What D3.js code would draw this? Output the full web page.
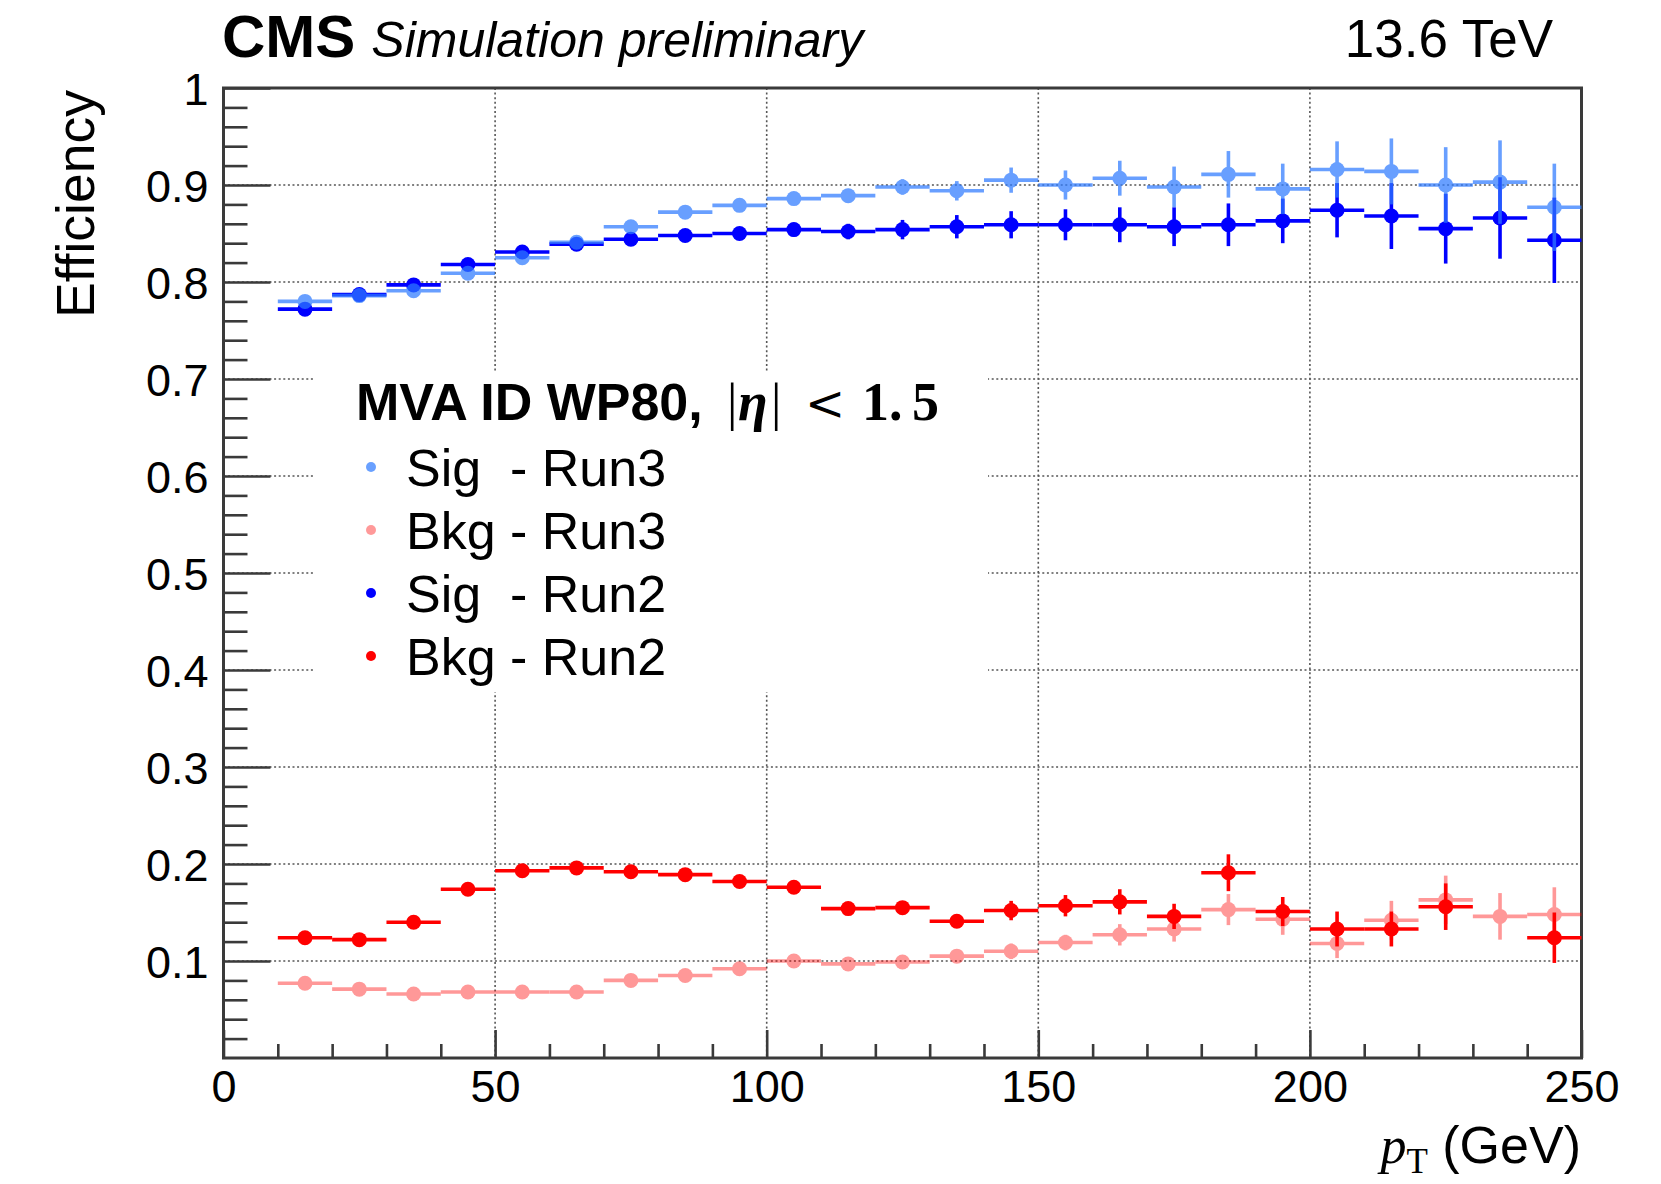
<!DOCTYPE html>
<html>
<head>
<meta charset="utf-8">
<script src="https://cdn.jsdelivr.net/npm/d3@7"></script>
<style>
  html, body { margin: 0; padding: 0; background: #fff; }
  svg { display: block; }
</style>
</head>
<body>
<svg id="chart" width="1661" height="1184"></svg>
<script>
// pT bins (GeV): lower / upper edges
const binLow  = [10, 20, 30, 40, 50, 60, 70, 80, 90, 100, 110, 120, 130, 140, 150, 160, 170, 180, 190, 200, 210, 220, 230, 240];
const binHigh = [20, 30, 40, 50, 60, 70, 80, 90, 100, 110, 120, 130, 140, 150, 160, 170, 180, 190, 200, 210, 220, 230, 240, 250];

// Signal efficiency, Run3 training
const sigRun3    = [0.780, 0.786, 0.791, 0.809, 0.825, 0.841, 0.857, 0.872, 0.879, 0.886, 0.889, 0.898, 0.894, 0.905, 0.900, 0.907, 0.898, 0.911, 0.896, 0.916, 0.914, 0.900, 0.903, 0.877];
const sigRun3Err = [0.002, 0.002, 0.002, 0.003, 0.003, 0.003, 0.004, 0.004, 0.005, 0.006, 0.007, 0.008, 0.010, 0.013, 0.015, 0.018, 0.021, 0.024, 0.026, 0.029, 0.034, 0.039, 0.043, 0.045];

// Signal efficiency, Run2 training
const sigRun2    = [0.772, 0.787, 0.797, 0.818, 0.831, 0.839, 0.844, 0.848, 0.850, 0.854, 0.852, 0.854, 0.857, 0.859, 0.859, 0.859, 0.857, 0.859, 0.863, 0.874, 0.868, 0.855, 0.866, 0.843];
const sigRun2Err = [0.002, 0.002, 0.003, 0.003, 0.003, 0.004, 0.004, 0.005, 0.006, 0.007, 0.008, 0.010, 0.012, 0.014, 0.016, 0.018, 0.020, 0.022, 0.023, 0.028, 0.034, 0.036, 0.042, 0.044];

// Background efficiency, Run3 training
const bkgRun3    = [0.077, 0.071, 0.066, 0.068, 0.068, 0.068, 0.080, 0.085, 0.092, 0.100, 0.097, 0.099, 0.105, 0.110, 0.119, 0.127, 0.133, 0.153, 0.143, 0.118, 0.142, 0.163, 0.146, 0.148];
const bkgRun3Err = [0.002, 0.002, 0.002, 0.002, 0.002, 0.003, 0.003, 0.003, 0.004, 0.004, 0.005, 0.005, 0.006, 0.008, 0.008, 0.011, 0.013, 0.016, 0.016, 0.015, 0.020, 0.025, 0.024, 0.028];

// Background efficiency, Run2 training (empty bin at 230-240 GeV)
const bkgRun2    = [0.124, 0.122, 0.140, 0.174, 0.193, 0.196, 0.192, 0.189, 0.182, 0.176, 0.154, 0.155, 0.141, 0.152, 0.157, 0.161, 0.146, 0.191, 0.151, 0.133, 0.133, 0.156, null, 0.124];
const bkgRun2Err = [0.002, 0.002, 0.003, 0.003, 0.003, 0.003, 0.003, 0.004, 0.004, 0.005, 0.005, 0.006, 0.007, 0.010, 0.011, 0.013, 0.013, 0.019, 0.015, 0.018, 0.018, 0.024, null, 0.026];

// Axis ticks and labels
const xMajorTicks = [0, 50, 100, 150, 200, 250];
const xMinorTicks = [10, 20, 30, 40, 60, 70, 80, 90, 110, 120, 130, 140, 160, 170, 180, 190, 210, 220, 230, 240];
const yMajorTicks = [0.1, 0.2, 0.3, 0.4, 0.5, 0.6, 0.7, 0.8, 0.9, 1.0];
const yTickLabels = ["0.1", "0.2", "0.3", "0.4", "0.5", "0.6", "0.7", "0.8", "0.9", "1"];
const yMinorTicks = d3.range(1, 50).map(i => +(i * 0.02).toFixed(2)).filter(v => Math.abs(v * 10 - Math.round(v * 10)) > 1e-6);
const xGrid = [50, 100, 150, 200];
const yGrid = [0.1, 0.2, 0.3, 0.4, 0.5, 0.6, 0.7, 0.8, 0.9];

const legendEntries = ["Sig  - Run3", "Bkg - Run3", "Sig  - Run2", "Bkg - Run2"];

const SANS = "'Liberation Sans', Arial, Helvetica, sans-serif";
const SERIF = "'Liberation Serif', 'DejaVu Serif', 'Times New Roman', serif";
const MATH = "'DejaVu Serif', 'Liberation Serif', serif";

const svg = d3.select("#chart");
const L = 223.5, R = 1581.5, T = 88, B = 1058;

const x = d3.scaleLinear().domain([0, 250]).range([L, R]);
const y = d3.scaleLinear().domain([0, 1]).range([B, T]);

// grid
const grid = svg.append("g").attr("stroke", "#555").attr("stroke-width", 1.6).attr("stroke-dasharray", "2,2.6");
grid.selectAll("line.gx").data(xGrid).join("line")
  .attr("x1", d => x(d)).attr("x2", d => x(d)).attr("y1", T).attr("y2", B);
grid.selectAll("line.gy").data(yGrid).join("line")
  .attr("y1", d => y(d)).attr("y2", d => y(d)).attr("x1", L).attr("x2", R);

// legend backdrop hides the grid behind the legend
svg.append("rect").attr("x", 314).attr("y", 372).attr("width", 674).attr("height", 320).attr("fill", "#fff");

// axes with inward ticks
const axisColor = "#3a3a3a";
function styleAxis(g) {
  g.select(".domain").remove();
  g.selectAll(".tick line").attr("stroke", axisColor).attr("stroke-width", 2.6);
  g.selectAll(".tick text").attr("fill", "#000").attr("font-family", SANS).attr("font-size", 45);
}
svg.append("g").attr("transform", `translate(${L},0)`)
  .call(d3.axisLeft(y).tickValues(yMinorTicks).tickSize(-24).tickFormat(""))
  .call(styleAxis);
svg.append("g").attr("transform", `translate(${L},0)`)
  .call(d3.axisLeft(y).tickValues(yMajorTicks).tickSize(-47).tickPadding(15)
        .tickFormat((d, i) => yTickLabels[i]))
  .call(styleAxis)
  .call(g => g.selectAll(".tick text").attr("dy", "0.36em"));
svg.append("g").attr("transform", `translate(0,${B})`)
  .call(d3.axisBottom(x).tickValues(xMinorTicks).tickSize(-14).tickFormat(""))
  .call(styleAxis);
svg.append("g").attr("transform", `translate(0,${B})`)
  .call(d3.axisBottom(x).tickValues(xMajorTicks).tickSize(-28).tickPadding(12).tickFormat(d3.format("d")))
  .call(styleAxis)
  .call(g => g.selectAll(".tick text").attr("dy", "0.71em"));

// frame
svg.append("rect").attr("x", L).attr("y", T).attr("width", R - L).attr("height", B - T)
  .attr("fill", "none").attr("stroke", axisColor).attr("stroke-width", 3);

// efficiency series: Run2 first, Run3 drawn translucently over it
const series = [
  { vals: sigRun2, errs: sigRun2Err, color: "#0000ff", opacity: 1 },
  { vals: bkgRun2, errs: bkgRun2Err, color: "#ff0000", opacity: 1 },
  { vals: sigRun3, errs: sigRun3Err, color: "#2f7bff", opacity: 0.72 },
  { vals: bkgRun3, errs: bkgRun3Err, color: "#ff0000", opacity: 0.4 }
];

series.forEach(s => {
  const pts = s.vals.map((v, i) => ({ v, e: s.errs[i], lo: binLow[i], hi: binHigh[i] })).filter(p => p.v !== null);
  const g = svg.append("g").attr("opacity", s.opacity);
  g.selectAll("line.h").data(pts).join("line")
    .attr("x1", p => x(p.lo)).attr("x2", p => x(p.hi))
    .attr("y1", p => y(p.v)).attr("y2", p => y(p.v))
    .attr("stroke", s.color).attr("stroke-width", 3.6);
  g.selectAll("line.v").data(pts).join("line")
    .attr("x1", p => x((p.lo + p.hi) / 2)).attr("x2", p => x((p.lo + p.hi) / 2))
    .attr("y1", p => y(p.v - p.e)).attr("y2", p => y(p.v + p.e))
    .attr("stroke", s.color).attr("stroke-width", 3.6);
  g.selectAll("circle").data(pts).join("circle")
    .attr("cx", p => x((p.lo + p.hi) / 2)).attr("cy", p => y(p.v))
    .attr("r", 7.5).attr("fill", s.color);
});

// legend header: "MVA ID WP80, |η| < 1.5"
const leg = svg.append("g");
const header = leg.append("text").attr("y", 420).attr("font-size", 52);
header.append("tspan").attr("x", 356).attr("font-family", SANS).attr("font-weight", "bold").text("MVA ID WP80,");
header.append("tspan").attr("x", 727).attr("font-family", SERIF).text("|");
header.append("tspan").attr("x", 738).attr("font-family", SERIF).attr("font-style", "italic").attr("font-weight", "bold")
  .attr("font-size", 54).text("η");
header.append("tspan").attr("x", 771).attr("font-family", SERIF).text("|");
header.append("tspan").attr("x", 805).attr("font-family", MATH).attr("font-size", 48).text("<");
header.append("tspan").attr("x", 862).attr("font-family", SERIF).attr("font-weight", "bold").attr("font-size", 54).text("1.");
header.append("tspan").attr("x", 912).attr("font-family", SERIF).attr("font-weight", "bold").attr("font-size", 54).text("5");

const legendStyle = [
  { color: "#2f7bff", opacity: 0.72 },
  { color: "#ff0000", opacity: 0.4 },
  { color: "#0000ff", opacity: 1 },
  { color: "#ff0000", opacity: 1 }
];
const legY = d3.scalePoint().domain(legendEntries).range([467, 656]);
legendEntries.forEach((name, i) => {
  leg.append("circle").attr("cx", 371).attr("cy", legY(name)).attr("r", 5)
    .attr("fill", legendStyle[i].color).attr("opacity", legendStyle[i].opacity);
  leg.append("text").attr("x", 406).attr("y", legY(name)).attr("dy", "0.36em")
    .attr("font-family", SANS).attr("font-size", 52)
    .style("white-space", "pre").text(name);
});

// titles
const titleText = svg.append("text").attr("x", 222).attr("y", 57).attr("font-family", SANS);
titleText.append("tspan").attr("font-weight", "bold").attr("font-size", 60).text("CMS");
titleText.append("tspan").attr("font-style", "italic").attr("font-size", 50).attr("dx", 16).text("Simulation preliminary");

svg.append("text").attr("x", 1553).attr("y", 57).attr("text-anchor", "end")
  .attr("font-family", SANS).attr("font-size", 53).text("13.6 TeV");

svg.append("text").attr("transform", "translate(94,90) rotate(-90)").attr("text-anchor", "end")
  .attr("font-family", SANS).attr("font-size", 53.5).text("Efficiency");

const xTitle = svg.append("text").attr("x", 1581).attr("y", 1163).attr("text-anchor", "end")
  .attr("font-size", 52);
xTitle.append("tspan").attr("font-family", SERIF).attr("font-style", "italic").text("p");
xTitle.append("tspan").attr("font-family", SERIF).attr("font-size", 35).attr("dy", 10).text("T");
xTitle.append("tspan").attr("font-family", SANS).attr("dy", -10).style("white-space", "pre").text(" (GeV)");
</script>
</body>
</html>
